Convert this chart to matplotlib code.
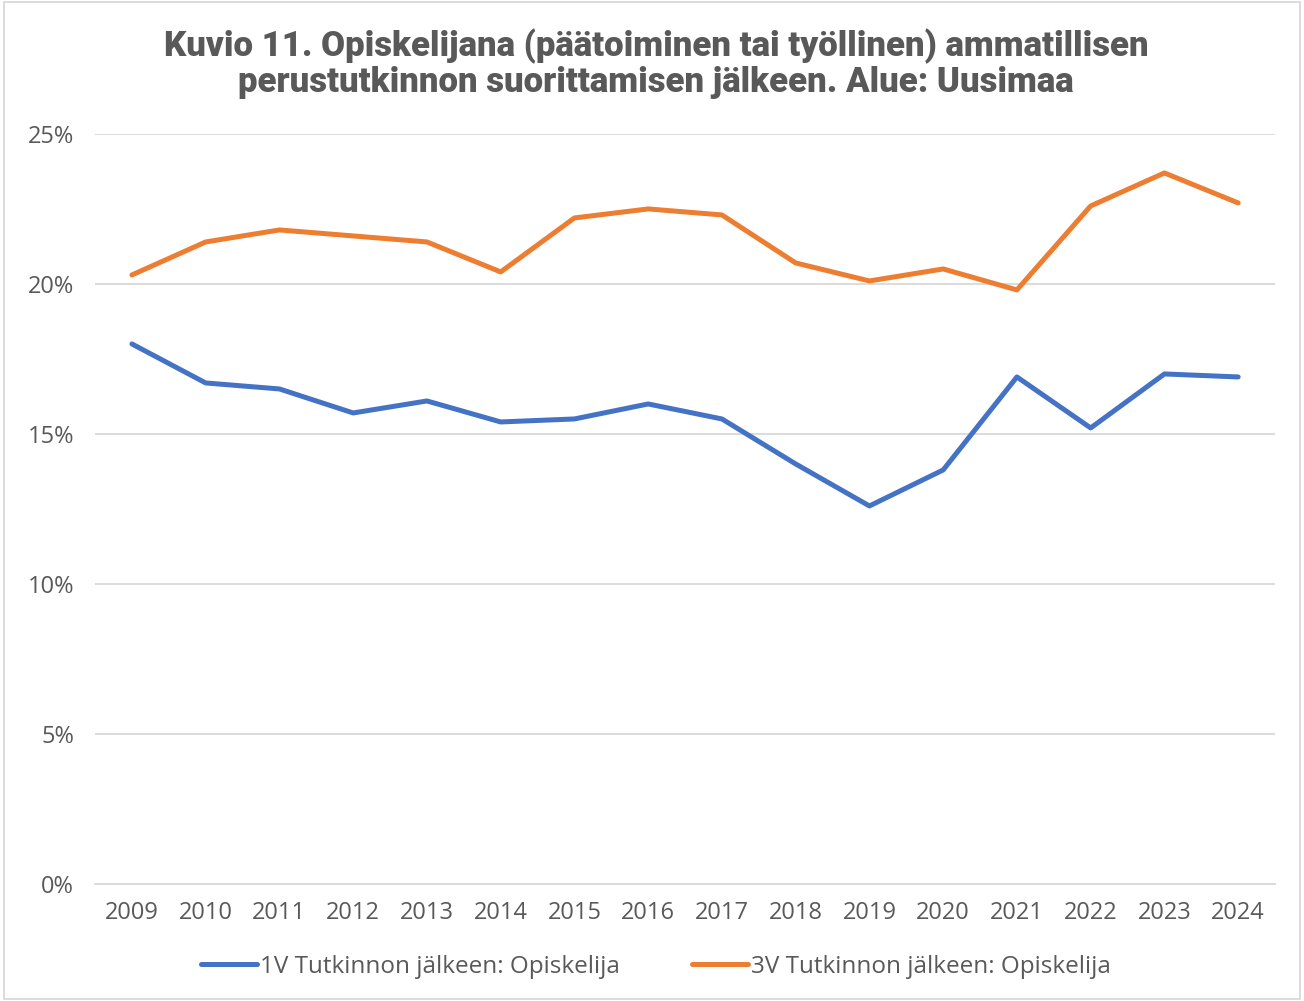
import matplotlib
matplotlib.use("Agg")
import matplotlib.pyplot as plt
from matplotlib.patches import Rectangle
from matplotlib.ticker import FuncFormatter

years = ["2009", "2010", "2011", "2012", "2013", "2014", "2015", "2016",
         "2017", "2018", "2019", "2020", "2021", "2022", "2023", "2024"]
v1 = [18.0, 16.7, 16.5, 15.7, 16.1, 15.4, 15.5, 16.0, 15.5, 14.0, 12.6, 13.8, 16.9, 15.2, 17.0, 16.9]
v3 = [20.3, 21.4, 21.8, 21.6, 21.4, 20.4, 22.2, 22.5, 22.3, 20.7, 20.1, 20.5, 19.8, 22.6, 23.7, 22.7]
labels = ["1V Tutkinnon jälkeen: Opiskelija", "3V Tutkinnon jälkeen: Opiskelija"]
title = "Kuvio 11. Opiskelijana (päätoiminen tai työllinen) ammatillisen\nperustutkinnon suorittamisen jälkeen. Alue: Uusimaa"

fig = plt.figure(figsize=(13.04, 10.01), dpi=100)
ax = fig.add_axes([0.0729, 0.1169, 0.9049, 0.7493])

x = list(range(len(years)))
ax.plot(x, v1, color="#4472C4", lw=3.6, solid_capstyle="round", label=labels[0])
ax.plot(x, v3, color="#ED7D31", lw=3.6, solid_capstyle="round", label=labels[1])

ax.set_xlim(-0.5, len(years) - 0.5)
ax.set_ylim(0, 25)
ax.set_yticks([0, 5, 10, 15, 20, 25])
ax.yaxis.set_major_formatter(FuncFormatter(lambda v, p: f"{v:.0f}%"))
ax.set_xticks(x)
ax.set_xticklabels(years)
ax.grid(axis="y", color="#D9D9D9", lw=1.3)
ax.set_axisbelow(True)
for s in ["top", "right", "left"]:
    ax.spines[s].set_visible(False)
ax.spines["bottom"].set_color("#D9D9D9")
ax.spines["bottom"].set_linewidth(1.3)
ax.tick_params(axis="both", length=0, labelsize=17, labelcolor="#595959")
ax.tick_params(axis="x", pad=12)
ax.tick_params(axis="y", pad=15)
for t in ax.get_xticklabels() + ax.get_yticklabels():
    t.set_fontfamily("Open Sans")

fig.text(0.503, 0.936, title, ha="center", va="center", fontsize=25,
         fontweight="heavy", color="#595959", family="Roboto", linespacing=1.08)

leg = fig.legend(loc="center", bbox_to_anchor=(0.503, 0.034), ncol=2, frameon=False,
                 prop={"family": "Open Sans", "size": 17.5}, handlelength=2.3,
                 handletextpad=0.1, columnspacing=3.0)
for t in leg.get_texts():
    t.set_color("#595959")

fig.patches.append(Rectangle((0.003, 0.002), 0.994, 0.996, transform=fig.transFigure,
                             fill=False, edgecolor="#D9D9D9", lw=1.3))

fig.savefig("out.png", dpi=100)
